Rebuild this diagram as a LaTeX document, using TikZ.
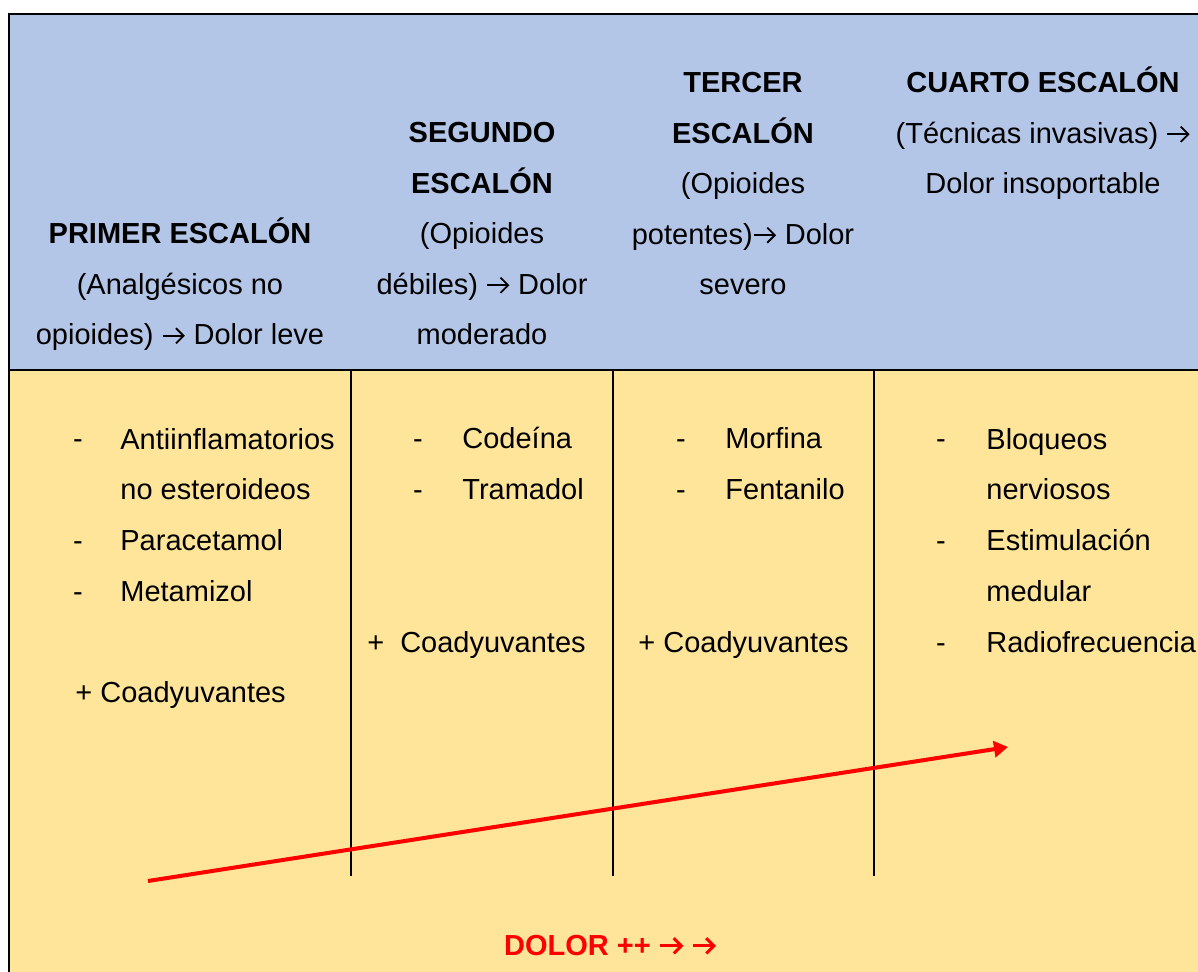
\documentclass[tikz,border=0pt]{standalone}
\usepackage{fontspec}
\setmainfont{Liberation Sans}
\usetikzlibrary{positioning, arrows.meta}
\definecolor{headblue}{HTML}{B4C6E7}
\definecolor{bodyyellow}{HTML}{FFE599}
% open text arrow, optional stroke width
\newcommand{\flecha}[1][0.9pt]{\tikz[baseline=0pt, x=1pt, y=1pt]{\path (0,0) (12,0); \draw[line width=#1] (0.5,4.6)--(11,4.6); \draw[line width=#1, line join=miter] (7.2,8.4)--(11,4.6)--(7.2,0.8);}}
\tikzstyle{head} = [font=\fontsize{14.5}{25.3}\selectfont, align=center, inner sep=0pt, anchor=base]
\tikzstyle{item} = [font=\fontsize{14.5}{25.3}\selectfont, align=left, inner sep=0pt, anchor=base west]
\tikzstyle{bullet} = [font=\fontsize{14.5}{25.3}\selectfont, inner sep=0pt, anchor=base]
\tikzstyle{rule} = [black, line width=1pt]
\tikzstyle{arrow} = [red, line width=2pt, -{Triangle[length=7pt,width=8pt]}]

\begin{document}
\begin{tikzpicture}[x=0.5pt, y=-0.5pt]
    \useasboundingbox (0,0) rectangle (1198,972);
    \fill[headblue] (9,14) rectangle (1212,370);
    \fill[bodyyellow] (9,370) rectangle (1212,980);

    % header (base = last line)
    \node (hdr1) [head] at (180,345) {\textbf{PRIMER ESCALÓN}\\(Analgésicos no\\opioides) \flecha{} Dolor leve};
    \node (hdr2) [head] at (482,345) {\textbf{SEGUNDO}\\\textbf{ESCALÓN}\\(Opioides\\débiles) \flecha{} Dolor\\moderado};
    \node (hdr3) [head] at (743,295) {\textbf{TERCER}\\\textbf{ESCALÓN}\\(Opioides\\potentes)\flecha{} Dolor\\severo};
    \node (hdr4) [head] at (1043,194) {\textbf{CUARTO ESCALÓN}\\(Técnicas invasivas) \flecha\\Dolor insoportable};

    % first step
    \node (d11) [bullet] at (78,449) {-};
    \node (it11) [item] at (120,500) {Antiinflamatorios\\no esteroideos};
    \node (d12) [bullet] at (78,550) {-};
    \node (it12) [item] at (120,550) {Paracetamol};
    \node (d13) [bullet] at (78,601) {-};
    \node (it13) [item] at (120,601) {Metamizol};
    \node (co1) [item] at (75,702) {+ Coadyuvantes};

    % second step
    \node (d21) [bullet] at (418,449) {-};
    \node (it21) [item] at (462,449) {Codeína};
    \node (d22) [bullet] at (418,500) {-};
    \node (it22) [item] at (462,500) {Tramadol};
    \node (co2) [item] at (367,652) {+\hspace{0.55em}Coadyuvantes};

    % third step
    \node (d31) [bullet] at (681,449) {-};
    \node (it31) [item] at (725,449) {Morfina};
    \node (d32) [bullet] at (681,500) {-};
    \node (it32) [item] at (725,500) {Fentanilo};
    \node (co3) [item] at (638,652) {+ Coadyuvantes};

    % fourth step
    \node (d41) [bullet] at (941,449) {-};
    \node (it41) [item] at (986,500) {Bloqueos\\nerviosos};
    \node (d42) [bullet] at (941,550) {-};
    \node (it42) [item] at (986,601) {Estimulación\\medular};
    \node (d43) [bullet] at (941,652) {-};
    \node (it43) [item] at (986,652) {Radiofrecuencia};

    % table rules
    \draw [rule] (9,14) rectangle (1212,985);
    \draw [rule] (9,370)--(1212,370);
    \draw [rule] (351,370)--(351,876);
    \draw [rule] (613,370)--(613,876);
    \draw [rule] (874,370)--(874,876);

    \coordinate (low) at (148,881);
    \coordinate (high) at (1008,747);
    \draw [arrow] (low)--(high);

    \node (pain) [head, text=red] at (610,955) {\textbf{DOLOR ++ \flecha[1.5pt] \flecha[1.5pt]}};
\end{tikzpicture}
\end{document}
